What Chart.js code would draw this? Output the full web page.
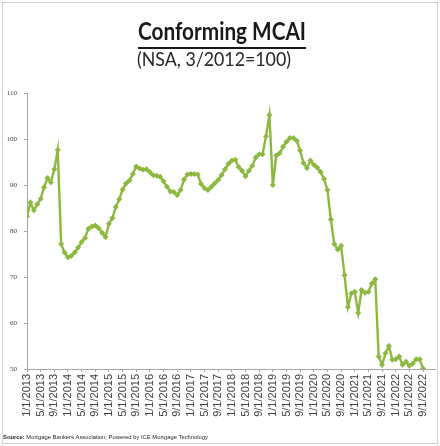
<!DOCTYPE html>
<html><head><meta charset="utf-8">
<script src="https://cdn.jsdelivr.net/npm/chart.js@4/dist/chart.umd.min.js"></script>
<style>html,body{margin:0;padding:0;background:#fff}</style>
</head><body>
<canvas id="c" width="440" height="446"></canvas>
<script>
const titleText = 'Conforming MCAI';
const subtitleText = '(NSA, 3/2012=100)';
const sourceBold = 'Source:';
const sourceRest = ' Mortgage Bankers Association; Powered by ICE Mortgage Technology';

const months = [
 '1/1/2013','2/1/2013','3/1/2013','4/1/2013','5/1/2013','6/1/2013','7/1/2013','8/1/2013','9/1/2013','10/1/2013','11/1/2013','12/1/2013',
 '1/1/2014','2/1/2014','3/1/2014','4/1/2014','5/1/2014','6/1/2014','7/1/2014','8/1/2014','9/1/2014','10/1/2014','11/1/2014','12/1/2014',
 '1/1/2015','2/1/2015','3/1/2015','4/1/2015','5/1/2015','6/1/2015','7/1/2015','8/1/2015','9/1/2015','10/1/2015','11/1/2015','12/1/2015',
 '1/1/2016','2/1/2016','3/1/2016','4/1/2016','5/1/2016','6/1/2016','7/1/2016','8/1/2016','9/1/2016','10/1/2016','11/1/2016','12/1/2016',
 '1/1/2017','2/1/2017','3/1/2017','4/1/2017','5/1/2017','6/1/2017','7/1/2017','8/1/2017','9/1/2017','10/1/2017','11/1/2017','12/1/2017',
 '1/1/2018','2/1/2018','3/1/2018','4/1/2018','5/1/2018','6/1/2018','7/1/2018','8/1/2018','9/1/2018','10/1/2018','11/1/2018','12/1/2018',
 '1/1/2019','2/1/2019','3/1/2019','4/1/2019','5/1/2019','6/1/2019','7/1/2019','8/1/2019','9/1/2019','10/1/2019','11/1/2019','12/1/2019',
 '1/1/2020','2/1/2020','3/1/2020','4/1/2020','5/1/2020','6/1/2020','7/1/2020','8/1/2020','9/1/2020','10/1/2020','11/1/2020','12/1/2020',
 '1/1/2021','2/1/2021','3/1/2021','4/1/2021','5/1/2021','6/1/2021','7/1/2021','8/1/2021','9/1/2021','10/1/2021','11/1/2021','12/1/2021',
 '1/1/2022','2/1/2022','3/1/2022','4/1/2022','5/1/2022','6/1/2022','7/1/2022','8/1/2022','9/1/2022'
];

const mcai = [
 83.2, 86.2, 84.5, 85.8, 87.0, 89.5, 91.5, 90.6, 93.4, 97.6, 77.2, 75.3,
 74.3, 74.6, 75.4, 76.4, 77.6, 78.5, 80.5, 81.0, 81.2, 80.6, 79.6, 78.7,
 81.6, 82.8, 85.2, 86.9, 89.0, 90.3, 91.0, 92.4, 94.0, 93.6, 93.3, 93.4,
 92.8, 92.1, 92.0, 91.8, 90.8, 89.6, 88.6, 88.5, 87.8, 88.9, 91.2, 92.3,
 92.4, 92.4, 92.3, 90.2, 89.3, 88.9, 89.6, 90.4, 91.1, 92.2, 93.4, 94.6,
 95.3, 95.5, 93.9, 93.1, 91.9, 93.1, 94.2, 96.0, 96.7, 96.7, 100.6, 105.2,
 90.0, 96.4, 96.9, 98.3, 99.4, 100.2, 100.2, 99.6, 97.5, 94.8, 93.7, 95.3,
 94.4, 93.8, 92.8, 91.3, 88.9, 82.5, 77.2, 76.0, 76.8, 70.4, 63.5, 66.4,
 66.8, 62.2, 67.2, 66.6, 66.8, 68.6, 69.5, 52.7, 50.9, 53.4, 55.0, 52.0,
 52.1, 52.7, 50.9, 51.6, 50.7, 51.2, 52.1, 52.1, 50.1
];

const yMin = 50, yMax = 110, yStep = 10;
const xTickEvery = 4;

const GREEN = '#8db83f';
const AXIS = '#a6a6a6';
const TEXT = '#404040';

function drawScaledText(ctx, text, x, y, font, targetW, align) {
  ctx.font = font;
  const w = ctx.measureText(text).width;
  const sx = targetW ? targetW / w : 1;
  ctx.save();
  ctx.translate(x, y);
  ctx.scale(sx, 1);
  ctx.textAlign = align || 'left';
  ctx.fillText(text, 0, 0);
  ctx.restore();
  return w * sx;
}

const decor = {
  id: 'decor',
  beforeDraw(chart) {
    const ctx = chart.ctx;
    ctx.save();
    ctx.fillStyle = '#fff';
    ctx.fillRect(0, 0, chart.width, chart.height);
    ctx.restore();
  },
  afterDraw(chart) {
    const ctx = chart.ctx;
    ctx.save();
    ctx.strokeStyle = '#cfcfcf';
    ctx.lineWidth = 1;
    ctx.strokeRect(2.5, 2.5, 435, 441);
    ctx.fillStyle = '#1a1a1a';
    ctx.textBaseline = 'alphabetic';
    const tw = drawScaledText(ctx, titleText, 222, 40, 'bold 24px Lato', 168, 'center');
    ctx.fillRect(222 - tw / 2, 47, tw, 2);
    ctx.fillStyle = '#262626';
    drawScaledText(ctx, subtitleText, 214, 66, '19px Lato', 154, 'center');
    ctx.fillStyle = '#262626';
    ctx.font = 'bold 6px "Liberation Sans"';
    const bw = ctx.measureText(sourceBold).width;
    ctx.font = '6px "Liberation Sans"';
    const rw = ctx.measureText(sourceRest).width;
    const sx = 205 / (bw + rw);
    ctx.translate(3, 439);
    ctx.scale(sx, 1);
    ctx.font = 'bold 6px "Liberation Sans"';
    ctx.fillText(sourceBold, 0, 0);
    ctx.font = '6px "Liberation Sans"';
    ctx.fillText(sourceRest, bw, 0);
    ctx.restore();
  }
};

const points = mcai.map((v, i) => ({ x: i, y: v }));

new Chart(document.getElementById('c'), {
  type: 'line',
  data: {
    datasets: [{
      label: 'Conforming MCAI',
      data: points,
      borderColor: GREEN,
      backgroundColor: GREEN,
      borderWidth: 2.4,
      pointStyle: 'rectRot',
      pointRadius: 3,
      pointBorderWidth: 0,
      pointBackgroundColor: GREEN,
      tension: 0
    }]
  },
  options: {
    responsive: false,
    animation: false,
    devicePixelRatio: 1,
    layout: { padding: { top: 93, left: 7, right: 5, bottom: 0 } },
    plugins: { legend: { display: false }, tooltip: { enabled: false }, title: { display: false } },
    scales: {
      x: {
        type: 'linear',
        min: 0,
        max: 119.5,
        afterFit(s) { s.height = 77; },
        border: { display: true, color: AXIS, width: 1 },
        grid: { display: true, drawOnChartArea: false, drawTicks: true, tickLength: 3, color: AXIS },
        ticks: {
          stepSize: xTickEvery,
          includeBounds: false,
          autoSkip: false,
          maxRotation: 90,
          minRotation: 90,
          padding: 2,
          color: TEXT,
          font: { size: 11, family: '"Liberation Sans"' },
          callback: (v) => (Number.isInteger(v) && v % xTickEvery === 0 && months[v]) ? months[v] : null
        }
      },
      y: {
        min: yMin,
        max: yMax,
        afterFit(s) { s.width = 20; },
        border: { display: true, color: AXIS, width: 1 },
        grid: { display: true, drawOnChartArea: false, drawTicks: true, tickLength: 3, color: AXIS },
        ticks: {
          stepSize: yStep,
          padding: 7,
          color: TEXT,
          font: { size: 7, family: '"Liberation Serif"' }
        }
      }
    }
  },
  plugins: [decor]
});
</script>
</body></html>
